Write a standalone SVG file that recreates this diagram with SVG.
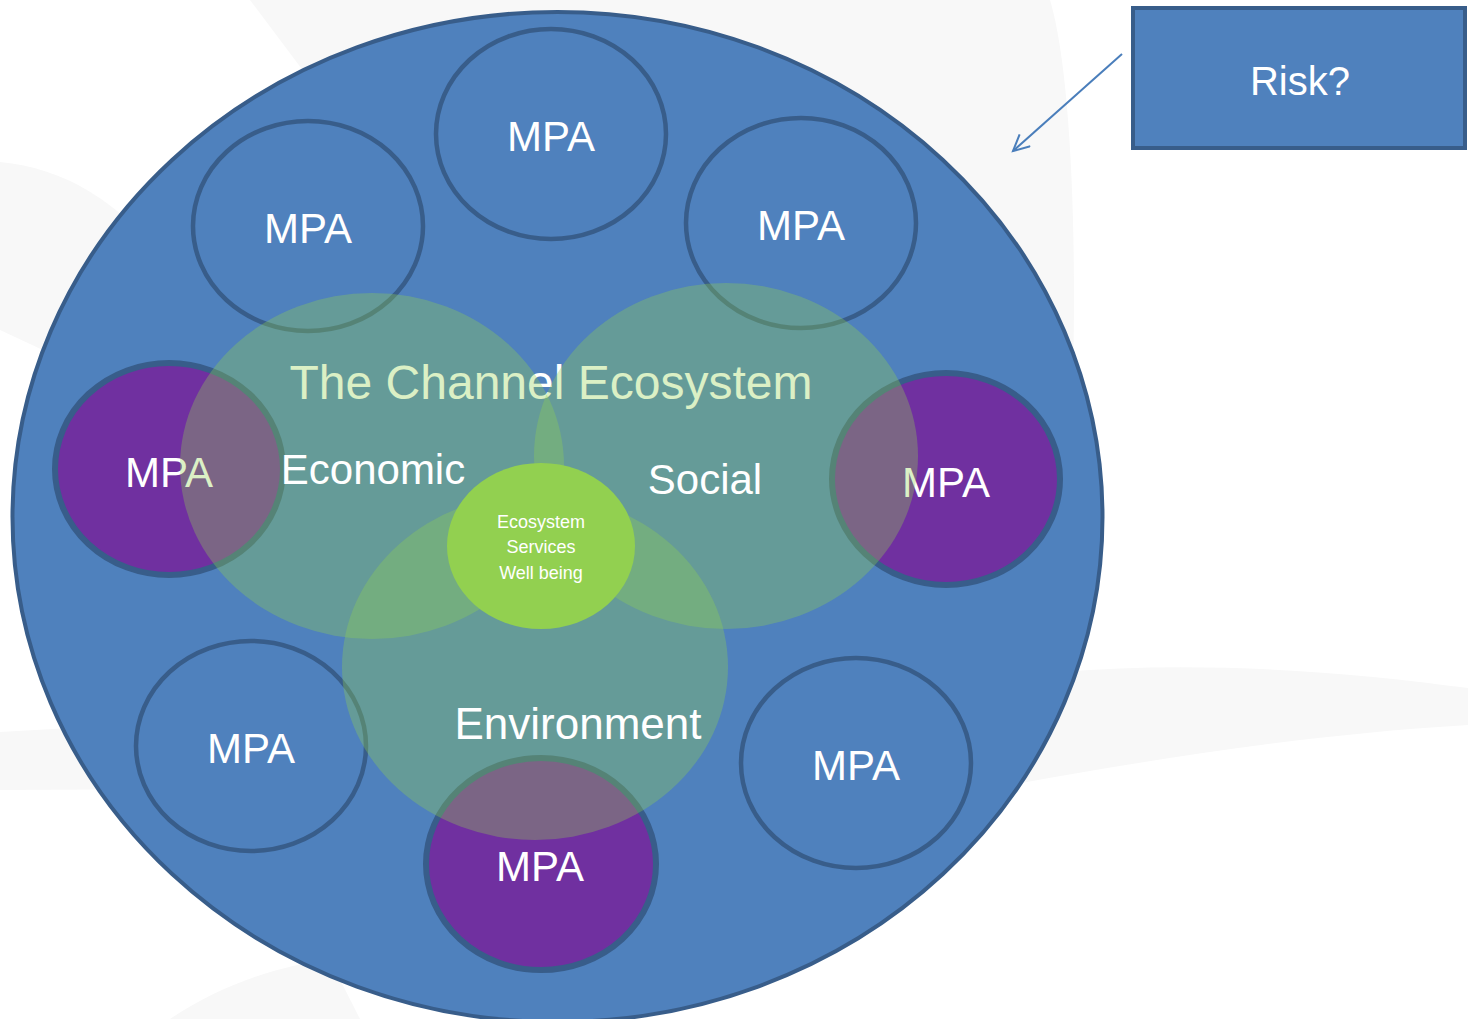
<svg xmlns="http://www.w3.org/2000/svg" width="1468" height="1019" viewBox="0 0 1468 1019">
<style>
.bg{fill:#f8f8f8;stroke:none}
.mpa{fill:#4f81bd;stroke:#385d8a;stroke-width:4.5}
.mpap{fill:#7030a0;stroke:#385d8a;stroke-width:6}
.venn{fill:#92d050;fill-opacity:0.33;stroke:none}
.t{font-family:"Liberation Sans",Arial,sans-serif;fill:#ffffff;text-anchor:middle}
.mt{font-size:42px}
.vt{font-size:42px}
.st{font-size:18px}
</style>
<defs>
<marker id="ah" markerUnits="userSpaceOnUse" markerWidth="24" markerHeight="24" refX="18" refY="9" orient="auto">
<path d="M2,1 L18,9 L2,17" fill="none" stroke="#4a7ebb" stroke-width="2"/>
</marker>
</defs>
<rect width="1468" height="1019" fill="#ffffff"/>
<g id="background">
<path class="bg" d="M250,0 C450,-30 900,-40 1050,0 C1080,100 1080,400 1060,600 L700,600 Z"/>
<path class="bg" d="M0,162 C70,168 130,210 170,270 L150,400 L0,330 Z"/>
<path class="bg" d="M1060,672 C1200,660 1350,672 1468,688 L1468,725 C1300,735 1150,760 1010,785 L0,790 L0,732 Z"/>
<path class="bg" d="M170,1019 C220,985 280,965 330,960 L360,1019 Z"/>
</g>
<g id="ecosystem-circle">
<ellipse cx="557.5" cy="517" rx="545" ry="505" fill="#4f81bd" stroke="#385d8a" stroke-width="4"/>
</g>
<g id="mpa-top">
<ellipse class="mpa" cx="551" cy="134" rx="115" ry="105"/>
<text class="t mt" x="551" y="151">MPA</text>
</g>
<g id="mpa-upper-left">
<ellipse class="mpa" cx="308" cy="226" rx="115" ry="105"/>
<text class="t mt" x="308" y="243">MPA</text>
</g>
<g id="mpa-upper-right">
<ellipse class="mpa" cx="801" cy="223" rx="115" ry="105"/>
<text class="t mt" x="801" y="240">MPA</text>
</g>
<g id="mpa-left">
<ellipse class="mpap" cx="169" cy="469" rx="114" ry="106"/>
<text class="t mt" x="169" y="487">MPA</text>
</g>
<g id="mpa-right">
<ellipse class="mpap" cx="946" cy="479" rx="114" ry="106"/>
<text class="t mt" x="946" y="497">MPA</text>
</g>
<g id="mpa-lower-left">
<ellipse class="mpa" cx="251" cy="746" rx="115" ry="105"/>
<text class="t mt" x="251" y="763">MPA</text>
</g>
<g id="mpa-lower-right">
<ellipse class="mpa" cx="856" cy="763" rx="115" ry="105"/>
<text class="t mt" x="856" y="780">MPA</text>
</g>
<g id="mpa-bottom">
<ellipse class="mpap" cx="541" cy="864" rx="115" ry="106"/>
<text class="t mt" x="540" y="881">MPA</text>
</g>
<g id="title">
<text class="t" x="551" y="399" style="font-size:48px">The Channel Ecosystem</text>
</g>
<g id="economic">
<ellipse class="venn" cx="372" cy="466" rx="192" ry="173"/>
</g>
<g id="social">
<ellipse class="venn" cx="726" cy="456" rx="192" ry="173"/>
</g>
<g id="environment">
<ellipse class="venn" cx="535" cy="667" rx="193" ry="173"/>
</g>
<g id="labels">
<text class="t vt" x="373" y="484">Economic</text>
<text class="t vt" x="705" y="494">Social</text>
<text class="t" x="578" y="739" style="font-size:44px">Environment</text>
</g>
<g id="center">
<ellipse cx="541" cy="546" rx="94" ry="83" fill="#92d050"/>
<text class="t st" x="541" y="528">Ecosystem</text>
<text class="t st" x="541" y="553">Services</text>
<text class="t st" x="541" y="579">Well being</text>
</g>
<g id="risk">
<rect x="1133" y="8" width="332" height="140" fill="#4f81bd" stroke="#385d8a" stroke-width="4"/>
<text class="t" x="1300" y="95" style="font-size:40px">Risk?</text>
</g>
<g id="connectors">
<line x1="1122" y1="54" x2="1013" y2="151" stroke="#4a7ebb" stroke-width="2" marker-end="url(#ah)"/>
</g>
</svg>
